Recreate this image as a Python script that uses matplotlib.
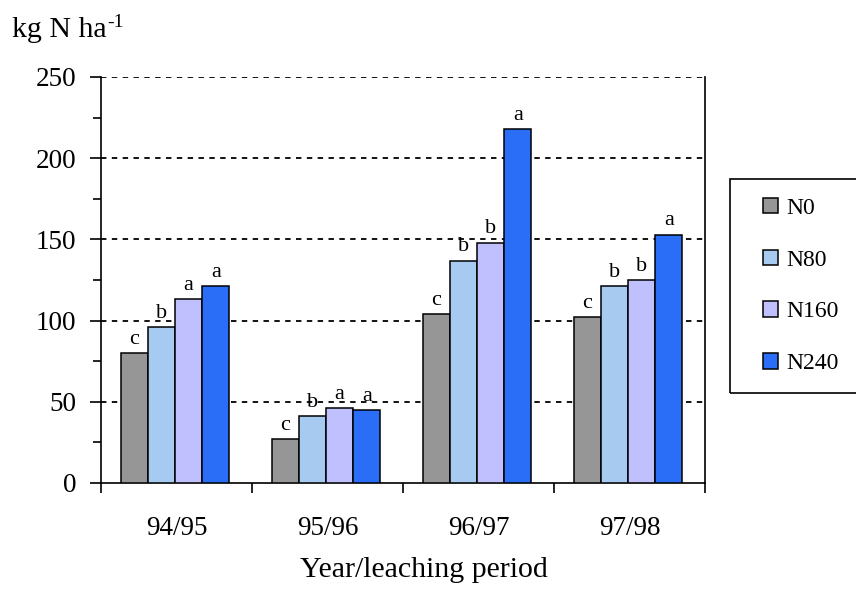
import matplotlib
matplotlib.use("Agg")
import matplotlib.pyplot as plt
import numpy as np
from matplotlib.patches import Rectangle
from matplotlib.ticker import MultipleLocator
from matplotlib.transforms import offset_copy

periods = ["94/95", "95/96", "96/97", "97/98"]
series_names = ["N0", "N80", "N160", "N240"]
n0 = [80, 27, 104, 102]
n80 = [96, 41, 137, 121]
n160 = [113, 46, 148, 125]
n240 = [121, 45, 218, 153]
letters_n0 = ["c", "c", "c", "c"]
letters_n80 = ["b", "b", "b", "b"]
letters_n160 = ["a", "a", "b", "b"]
letters_n240 = ["a", "a", "a", "a"]
yticks = [0, 50, 100, 150, 200, 250]

values = [n0, n80, n160, n240]
letters = [letters_n0, letters_n80, letters_n160, letters_n240]
colors = ["#969696", "#a6caf0", "#c0c0ff", "#2a6ef8"]

plt.rcParams["font.family"] = ["Liberation Serif", "DejaVu Serif"]

W, H = 856, 592
fig = plt.figure(figsize=(W / 100, H / 100), dpi=100)
ax = fig.add_axes([101 / W, 1 - 483 / H, (705 - 101) / W, (483 - 77) / H])

x = np.arange(len(periods))
bw = 0.18
handles = []
for i, (vals, lets, col, name) in enumerate(zip(values, letters, colors, series_names)):
    pos = x + (i - 1.5) * bw - 0.01
    b = ax.bar(pos, vals, width=bw, color=col, edgecolor="black", linewidth=1.1,
               label=name, zorder=3)
    handles.append(b)
    for p, v, l in zip(pos, vals, lets):
        ax.annotate(l, (p, v), xytext=(0, 3), textcoords="offset points",
                    ha="center", va="bottom", fontsize=16, zorder=4)

ax.set_xlim(-0.5, len(periods) - 0.5)
ax.set_ylim(0, 250)
ax.set_yticks(yticks)
ax.yaxis.set_minor_locator(MultipleLocator(25))
ax.tick_params(axis="y", which="major", direction="out", length=8, width=1.2,
               labelsize=19.5, pad=10)
ax.tick_params(axis="y", which="minor", direction="out", length=6, width=1.2)

ax.set_xticks(np.arange(len(periods) + 1) - 0.5)
ax.set_xticklabels([])
ax.set_xticks(x, minor=True)
ax.set_xticklabels(periods, minor=True)
ax.tick_params(axis="x", which="major", direction="out", length=7, width=1.2)
ax.tick_params(axis="x", which="minor", length=0, labelsize=19.5, pad=24)

for y in yticks[1:]:
    ax.axhline(y, color="black", linestyle=(0, (3, 3)), linewidth=1.3, zorder=1)

ax.spines["top"].set_visible(False)
for s in ["left", "bottom", "right"]:
    ax.spines[s].set_linewidth(1.2)

t = fig.text(12 / W, 1 - 37 / H, "kg N ha", fontsize=21.5,
             ha="left", va="baseline")
fig.canvas.draw()
bb = t.get_window_extent()
fig.text(bb.x1 / W + 1 / W, 1 - 27 / H, "-1", fontsize=14, ha="left",
         va="baseline")

fig.text(424 / W, 1 - 577 / H, "Year/leaching period", fontsize=21.5,
         ha="center", va="baseline")

rect = Rectangle((730 / W, 1 - 393 / H), 140 / W, (393 - 179) / H,
                 transform=fig.transFigure, fill=False, edgecolor="black",
                 linewidth=1.2, clip_on=False)
fig.patches.append(rect)

fig.legend(handles=handles, loc="upper left",
           bbox_to_anchor=(758 / W, 1 - 193 / H), frameon=False, fontsize=17,
           handlelength=0.66, handleheight=0.64, handletextpad=0.35,
           labelspacing=1.3, borderaxespad=0, borderpad=0.2)

fig.savefig("out.png", dpi=100)
